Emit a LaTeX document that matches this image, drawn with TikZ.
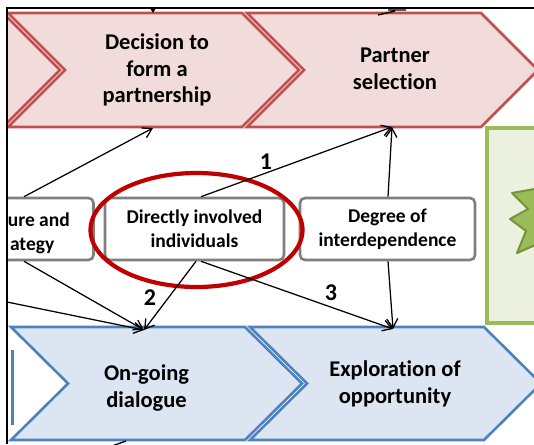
\documentclass[tikz,border=0pt]{standalone}
\usepackage{fontspec}
\setmainfont{Carlito}[Ligatures=NoCommon]
\usetikzlibrary{arrows.meta,calc}
\definecolor{redfill}{HTML}{F2DCDB}
\definecolor{redline}{HTML}{C0504D}
\definecolor{bluefill}{HTML}{DCE6F2}
\definecolor{blueline}{HTML}{4F81BD}
\definecolor{boxgray}{HTML}{7F7F7F}
\definecolor{ringred}{HTML}{C00000}
\definecolor{greenfill}{HTML}{EBF1DE}
\definecolor{greenline}{HTML}{9BBB59}
\definecolor{stardark}{HTML}{76923C}
\newcommand\chevshape[4]{% style, x0, ytop, height
  \filldraw[#1] (#2,#3) -- ++(234,0) -- ++(57,#4/2) -- ++(-57,#4/2) -- ++(-234,0) -- ++(57,-#4/2) -- cycle;}
\tikzset{
  chevred/.style={fill=redfill, draw=redline, line width=2.6pt, line join=miter},
  chevblue/.style={fill=bluefill, draw=blueline, line width=2.6pt, line join=miter},
  factor/.style={draw=boxgray, line width=2.6pt, rounded corners=5pt, fill=white,
    minimum height=62pt, inner sep=0pt, align=center,
    font=\fontsize{19.5}{24}\selectfont\bfseries},
  boxtext/.style={inner sep=0pt, font=\fontsize{19.5}{24}\selectfont\bfseries},
  chevtext/.style={align=center, inner sep=0pt, font=\fontsize{22.5}{26.5}\selectfont\bfseries},
  link/.style={-{Straight Barb[length=9pt,width=11pt,line width=1.3pt]}, line width=1.25pt},
  num/.style={inner sep=0pt, font=\fontsize{24}{26}\selectfont\bfseries}
}
\begin{document}
\begin{tikzpicture}[x=1pt,y=-1pt]
\useasboundingbox (0,0) rectangle (534,444);
\begin{scope}
\clip (7,8) rectangle (534,444);
% red chevrons
\chevshape{chevred}{-231}{13}{114}
\chevshape{chevred}{8}{13}{114}
\chevshape{chevred}{247}{13}{114}
% blue chevrons
\draw[blueline, line width=3pt] (12,350) -- (12,425);
\chevshape{chevblue}{11}{327}{113}
\chevshape{chevblue}{250}{327}{113}
% green box and star
\filldraw[fill=greenfill, draw=greenline, line width=3.5pt] (487,128) rectangle (560,323);
\filldraw[fill=greenline, draw=stardark, line width=2pt, line join=round]
  (545,170) -- (540,188) -- (512,193) -- (528,209) -- (510,219) -- (526,231)
  -- (517,253) -- (540,243) -- (548,275) -- (570,240) -- cycle;
% boxes
\node[factor, minimum width=179pt] (leftbox) at (4,229) {};
\node[factor, minimum width=179pt] (midbox) at (194.5,229) {Directly involved\\individuals};
\node[factor, minimum width=175pt] (rightbox) at (387.5,229) {Degree of\\interdependence};
\node[boxtext, anchor=base east] (lefta) at (70,226) {ure and};
\node[boxtext, anchor=base east] (leftb) at (54.5,250) {ategy};
% chevron texts
\node[chevtext] (decision) at (157,70) {Decision to\\form a\\partnership};
\node[chevtext] (partner) at (395,69) {Partner\\selection};
\node[chevtext] (ongoing) at (146.5,388) {On-going\\dialogue};
\node[chevtext] (explore) at (395,384) {Exploration of\\opportunity};
% ring
\draw[ringred, line width=4.2pt] (196.5,230) ellipse [x radius=106, y radius=57];
% connector ends
\coordinate (decb) at (153,128);
\coordinate (parb) at (392,127);
\coordinate (ongt) at (144,330);
\coordinate (expt) at (393,329);
\coordinate (leftin) at (7,302);
\coordinate (topa) at (153,8);
\coordinate (topb) at (153,13);
\coordinate (bota) at (126,441);
\coordinate (botb) at (112,446);
% connectors
\draw[link] ([xshift=20pt]leftbox.north) -- (decb);
\draw[link] ([xshift=6.5pt]midbox.north) -- (parb);
\draw[link] ([xshift=0.5pt]rightbox.north) -- (parb);
\draw[link] ([xshift=20pt]leftbox.south) -- (ongt);
\draw[link] (leftin) -- (ongt);
\draw[link] ([xshift=1.5pt]midbox.south) -- (ongt);
\draw[link] ([xshift=6.5pt]midbox.south) -- (expt);
\draw[link] ([xshift=0.5pt]rightbox.south) -- (expt);
\draw[link] (topa) -- (topb);
\draw[line width=1.3pt] (bota) -- (botb);
\draw[line width=1.4pt] (378,15) -- (395,11) (388,10) -- (406,10);
% labels
\node[num] (n1) at (266,162) {1};
\node[num] (n2) at (150,298) {2};
\node[num] (n3) at (331,293) {3};
\end{scope}
% frame
\draw[line width=1.5pt] (534,8) -- (7,8) -- (7,444);
\end{tikzpicture}
\end{document}
